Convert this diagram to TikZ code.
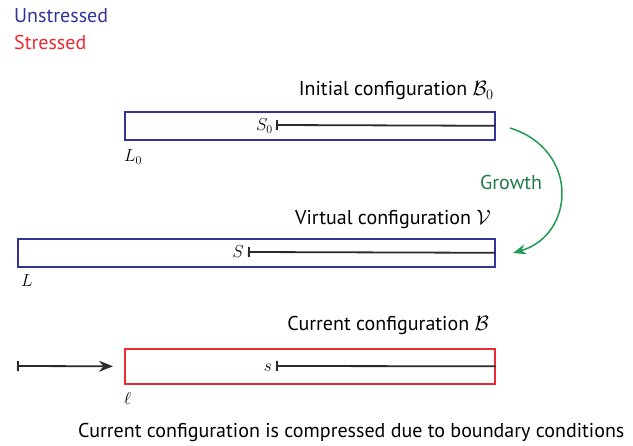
\documentclass[tikz,border=0pt]{standalone}
\usepackage{fontspec}
\setmainfont{PT Sans}
\usetikzlibrary{arrows.meta}
\definecolor{ublue}{HTML}{33339A}
\definecolor{sred}{HTML}{EC2A33}
\definecolor{ggreen}{HTML}{1E9A52}
\definecolor{gtext}{HTML}{1F7A48}
\definecolor{lgray}{HTML}{2A2A2A}
\tikzset{
  x=1pt,y=-1pt,
  rodbox/.style={draw=#1,line width=1.6pt,inner sep=0pt,anchor=north west},
  lbl/.style={font=\fontsize{20}{24}\selectfont,inner sep=0pt},
  cfg/.style={font=\fontsize{20}{24}\selectfont,inner sep=0pt,anchor=base east},
  mlbl/.style={font=\fontsize{17}{20}\selectfont,inner sep=0pt,anchor=base east},
  seg/.style={draw=lgray,line width=1.8pt,{Bar[width=10pt,line width=1.8pt]}-},
}
\begin{document}
\begin{tikzpicture}
\useasboundingbox (0,0) rectangle (633,446);
\node[lbl,anchor=base west,text=ublue] (uns) at (14,23) {Unstressed};
\node[lbl,anchor=base west,text=sred] (str) at (14,50) {Stressed};
% initial
\node[cfg] (t0) at (494,96) {Initial configuration $\mathcal{B}_0$};
\node[rodbox=ublue,minimum width=370pt,minimum height=28pt] (r0) at (124,111) {};
\node[mlbl] (s0) at (273,131) {$S_0$};
\coordinate (k0) at (276,125);
\draw[seg] (k0) -- (r0.east);
\node[mlbl,anchor=base west] (l0) at (124,162) {$L_0$};
% virtual
\node[cfg] (t1) at (491,225) {Virtual configuration $\mathcal{V}$};
\node[rodbox=ublue,minimum width=477pt,minimum height=28pt] (r1) at (17,238) {};
\node[mlbl] (s1) at (244,258) {$S$};
\coordinate (k1) at (248,252);
\draw[seg] (k1) -- (r1.east);
\node[mlbl,anchor=base west] (l1) at (21,287) {$L$};
% current
\node[cfg] (t2) at (489,331) {Current configuration $\mathcal{B}$};
\node[rodbox=sred,minimum width=370pt,minimum height=35pt] (r2) at (124,348) {};
\node[mlbl] (s2) at (272,372) {$s$};
\coordinate (k2) at (276,366);
\draw[seg] (k2) -- (r2.east);
\node[mlbl,anchor=base west] (l2) at (124,405) {$\ell$};
\coordinate (a0) at (17,366);
\draw[draw=lgray,line width=1.8pt,{Bar[width=10pt,line width=1.8pt]}-{Stealth[length=14pt,width=11pt]}] (a0) -- ([xshift=-11pt]r2.west);
% growth
\coordinate (g0) at (510,128);
\coordinate (g1) at (513,253);
\draw[ggreen,line width=1.5pt,-{Stealth[length=13pt,width=10pt]}] (g0) .. controls (580,150) and (575,235) .. (g1);
\node[lbl,anchor=base west,text=gtext] (gr) at (480,190) {Growth};
% caption
\node[lbl,anchor=base west] (cap) at (78,438) {Current configuration is compressed due to boundary conditions};
\end{tikzpicture}
\end{document}
